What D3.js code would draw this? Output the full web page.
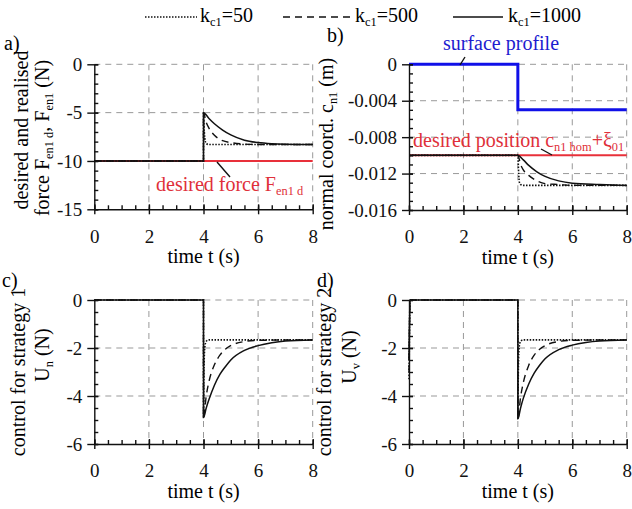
<!DOCTYPE html>
<html>
<head>
<meta charset="utf-8">
<script src="https://cdn.jsdelivr.net/npm/d3@7"></script>
<style>
  body { margin: 0; background: #fff; }
</style>
</head>
<body>
<script>
// time axis, shared by all four panels
var timeTicks = [0, 2, 4, 6, 8];
var legendGains = ["50", "500", "1000"];

// a) realised normal force F_en1 (N), one array per contact stiffness k_c1
var forceK50 = [[0,-10],[4,-10],[4,-5],[4.03,-7],[4.06,-7.9],[4.1,-8.2],[4.2,-8.3],[8,-8.3]];
var forceK500 = [[0,-10],[4,-10],[4,-5],[4.1,-6.0],[4.2,-6.6],[4.4,-7.35],[4.7,-7.9],[5,-8.1],[5.5,-8.25],[6,-8.29],[8,-8.3]];
var forceK1000 = [[0,-10],[4,-10],[4,-5],[4.2,-5.6],[4.4,-6.15],[4.7,-6.8],[5,-7.3],[5.5,-7.85],[6,-8.1],[6.5,-8.22],[7,-8.27],[8,-8.3]];
var desiredForce = [[0,-10],[8,-10]];
var forceTicks = [0, -5, -10, -15];

// b) normal coordinate c_n1 (m)
var coordK50 = [[0,-0.01],[4,-0.01],[4.03,-0.012],[4.06,-0.013],[4.1,-0.0132],[4.2,-0.0133],[8,-0.0133]];
var coordK500 = [[0,-0.01],[4,-0.01],[4.1,-0.011],[4.2,-0.0116],[4.4,-0.0122],[4.7,-0.0128],[5,-0.0131],[5.5,-0.0132],[6,-0.0133],[8,-0.0133]];
var coordK1000 = [[0,-0.01],[4,-0.01],[4.2,-0.0105],[4.4,-0.0111],[4.7,-0.0118],[5,-0.0123],[5.5,-0.0128],[6,-0.01305],[7,-0.0132],[8,-0.0133]];
var desiredPosition = [[0,-0.01],[8,-0.01]];
var surfaceProfile = [[0,0],[4,0],[4,-0.005],[8,-0.005]];
var coordTicks = [0, -0.004, -0.008, -0.012, -0.016];

// c) control for strategy 1, U_n (N)
var ctrl1K50 = [[0,0],[4,0],[4,-4.9],[4.02,-2.8],[4.05,-1.95],[4.1,-1.72],[4.2,-1.66],[8,-1.66]];
var ctrl1K500 = [[0,0],[4,0],[4,-4.9],[4.1,-4.0],[4.2,-3.4],[4.4,-2.7],[4.6,-2.3],[4.8,-2.05],[5,-1.9],[5.5,-1.73],[6,-1.68],[8,-1.66]];
var ctrl1K1000 = [[0,0],[4,0],[4,-4.9],[4.1,-4.5],[4.2,-4.15],[4.4,-3.55],[4.6,-3.1],[4.8,-2.78],[5,-2.5],[5.5,-2.1],[6,-1.9],[6.5,-1.78],[7,-1.71],[8,-1.67]];

// d) control for strategy 2, U_v (N)
var ctrl2K50 = [[0,-3.3],[0.04,0],[4,0],[4,-4.95],[4.02,-2.8],[4.05,-1.95],[4.1,-1.72],[4.2,-1.66],[8,-1.66]];
var ctrl2K500 = [[0,-3.0],[0.04,0],[4,0],[4,-4.95],[4.1,-4.05],[4.2,-3.45],[4.4,-2.72],[4.6,-2.3],[4.8,-2.05],[5,-1.9],[5.5,-1.73],[6,-1.68],[8,-1.66]];
var ctrl2K1000 = [[0,-2.5],[0.04,0],[4,0],[4,-4.95],[4.1,-4.5],[4.2,-4.1],[4.4,-3.5],[4.6,-3.05],[4.8,-2.72],[5,-2.45],[5.5,-2.07],[6,-1.88],[6.5,-1.77],[7,-1.71],[8,-1.67]];
var ctrlTicks = [0, -2, -4, -6];

var W = 632, H = 509;
var dotted = "1.5,1.5", dashed = "7,5";

/**
 * Pick the first installed serif font by comparing text widths on a canvas
 */
function pickFont(names) {
    var ctx = document.createElement("canvas").getContext("2d");
    var probe = "abcdefghijklmnopqrstuvwxyz ABCDEFGHIJ 0123456789";
    for (var i = 0; i < names.length; i++) {
        var differs = ["monospace", "sans-serif"].every(function(base) {
            ctx.font = "40px " + base;
            var w0 = ctx.measureText(probe).width;
            ctx.font = "40px '" + names[i] + "', " + base;
            return ctx.measureText(probe).width !== w0;
        });
        if (differs) return "'" + names[i] + "'";
    }
    return "serif";
}
var serifFont = pickFont(["Liberation Serif", "Times New Roman", "Tinos", "DejaVu Serif", "Noto Serif"]);

var svg = d3.select("body").append("svg")
    .attr("width", W)
    .attr("height", H)
    .attr("font-family", serifFont);

/**
 * Write a text made of normal and subscript parts into a text element
 */
function richText(el, parts) {
    parts.forEach(function(p, i) {
        var sub = p[1] === "sub";
        var afterSub = i > 0 && parts[i - 1][1] === "sub" && !sub;
        el.append("tspan")
            .attr("font-size", sub ? "0.62em" : null)
            .attr("dy", sub ? "0.3em" : (afterSub ? "-0.186em" : null))
            .text(p[0]);
    });
    return el;
}

var panels = [
    { box: [94.3, 312.7, 64.3, 209.3], yDomain: [-15, 0], yTicks: forceTicks, yMinor: 1,
      fmt: function(d) { return String(d); },
      refLines: [{ data: desiredForce, color: "#e8303a", width: 2 }],
      series: [forceK50, forceK500, forceK1000],
      letter: ["a)", 4, 50],
      ylabel: [
          { x: 28, y: 130, parts: [["desired and realised"]] },
          { x: 49, y: 138, parts: [["force F"], ["en1 d", "sub"], [", F"], ["en1", "sub"], [" (N)"]] }
      ] },
    { box: [409, 626.7, 64.3, 210], yDomain: [-0.016, 0], yTicks: coordTicks, yMinor: 0.001,
      fmt: function(d) { return d === 0 ? "0" : d.toFixed(3); },
      refLines: [{ data: desiredPosition, color: "#e8303a", width: 2 }],
      series: [coordK50, coordK500, coordK1000],
      topLines: [{ data: surfaceProfile, color: "#1010e8", width: 3 }],
      letter: ["b)", 327, 42],
      ylabel: [
          { x: 333, y: 144, parts: [["normal coord. c"], ["n1", "sub"], [" (m)"]] }
      ] },
    { box: [94.3, 312.7, 300, 444], yDomain: [-6, 0], yTicks: ctrlTicks, yMinor: 0.5,
      fmt: function(d) { return String(d); },
      refLines: [],
      series: [ctrl1K50, ctrl1K500, ctrl1K1000],
      letter: ["c)", 2, 287],
      ylabel: [
          { x: 25, y: 372, parts: [["control for strategy 1"]] },
          { x: 49, y: 355, parts: [["U"], ["n", "sub"], [" (N)"]] }
      ] },
    { box: [409, 626.7, 300, 444], yDomain: [-6, 0], yTicks: ctrlTicks, yMinor: 0.5,
      fmt: function(d) { return String(d); },
      refLines: [],
      series: [ctrl2K50, ctrl2K500, ctrl2K1000],
      letter: ["d)", 317, 287],
      ylabel: [
          { x: 331, y: 372, parts: [["control for strategy 2"]] },
          { x: 356, y: 357, parts: [["U"], ["v", "sub"], [" (N)"]] }
      ] }
];

var seriesStyle = [
    { dash: dotted, width: 1.6 },
    { dash: dashed, width: 1.4 },
    { dash: null, width: 1.5 }
];

panels.forEach(function(p) {
    var x = d3.scaleLinear().domain([0, 8]).range([p.box[0], p.box[1]]);
    var y = d3.scaleLinear().domain(p.yDomain).range([p.box[3], p.box[2]]);
    var g = svg.append("g");

    // dashed grid
    g.selectAll(".gx").data(timeTicks.slice(1)).enter().append("line")
        .attr("x1", function(d) { return x(d); }).attr("x2", function(d) { return x(d); })
        .attr("y1", y.range()[1]).attr("y2", y.range()[0])
        .attr("stroke", "#999").attr("stroke-dasharray", "6,5");
    g.selectAll(".gy").data(p.yTicks.filter(function(d) { return d !== p.yDomain[0]; })).enter().append("line")
        .attr("y1", function(d) { return y(d); }).attr("y2", function(d) { return y(d); })
        .attr("x1", x.range()[0]).attr("x2", x.range()[1])
        .attr("stroke", "#999").attr("stroke-dasharray", "6,5");

    var line = d3.line()
        .x(function(d) { return x(d[0]); })
        .y(function(d) { return y(d[1]); })
        .curve(d3.curveMonotoneX);
    var straight = d3.line()
        .x(function(d) { return x(d[0]); })
        .y(function(d) { return y(d[1]); });

    p.refLines.forEach(function(r) {
        g.append("path").datum(r.data)
            .attr("fill", "none").attr("stroke", r.color).attr("stroke-width", r.width)
            .attr("d", straight);
    });

    p.series.forEach(function(s, i) {
        g.append("path").datum(s)
            .attr("fill", "none").attr("stroke", "#111")
            .attr("stroke-width", seriesStyle[i].width)
            .attr("stroke-dasharray", seriesStyle[i].dash)
            .attr("d", line);
    });

    (p.topLines || []).forEach(function(r) {
        g.append("path").datum(r.data)
            .attr("fill", "none").attr("stroke", r.color).attr("stroke-width", r.width)
            .attr("d", straight);
    });

    // axes: major ticks cross the axis line, minor ticks point inside
    var xMinor = d3.range(0, 8.001, 0.5);
    var yMinor = d3.range(p.yDomain[0], p.yDomain[1] + p.yMinor / 2, p.yMinor);
    var bottom = y.range()[0], left = x.range()[0];

    g.append("g").attr("transform", "translate(0," + bottom + ")")
        .call(d3.axisBottom(x).tickValues(timeTicks).tickSizeInner(5).tickSizeOuter(0).tickPadding(15));
    g.append("g").attr("transform", "translate(0," + bottom + ")")
        .call(d3.axisBottom(x).tickValues(xMinor).tickSize(-4).tickFormat(""))
        .select(".domain").remove();
    g.append("g").attr("transform", "translate(0," + bottom + ")")
        .call(d3.axisBottom(x).tickValues(timeTicks).tickSize(-5).tickFormat(""))
        .select(".domain").remove();

    g.append("g").attr("transform", "translate(" + left + ",0)")
        .call(d3.axisLeft(y).tickValues(p.yTicks).tickSizeInner(7).tickSizeOuter(0).tickPadding(5).tickFormat(p.fmt));
    g.append("g").attr("transform", "translate(" + left + ",0)")
        .call(d3.axisLeft(y).tickValues(yMinor).tickSize(-4).tickFormat(""))
        .select(".domain").remove();
    g.append("g").attr("transform", "translate(" + left + ",0)")
        .call(d3.axisLeft(y).tickValues(p.yTicks).tickSize(-4).tickFormat(""))
        .select(".domain").remove();

    g.selectAll("g").attr("font-family", serifFont);
    g.selectAll(".domain, .tick line").attr("stroke", "#111").attr("stroke-width", 1.4);
    g.selectAll(".tick text").attr("font-size", 19).attr("fill", "#111");

    // x axis title
    g.append("text")
        .attr("x", (x.range()[0] + x.range()[1]) / 2)
        .attr("y", bottom + 54)
        .attr("text-anchor", "middle")
        .attr("font-size", 20)
        .text("time t (s)");

    // y axis title (one or two lines)
    p.ylabel.forEach(function(l) {
        var t = g.append("text")
            .attr("transform", "translate(" + l.x + "," + l.y + ") rotate(-90)")
            .attr("text-anchor", "middle")
            .attr("font-size", 20);
        richText(t, l.parts);
    });

    g.append("text")
        .attr("x", p.letter[1]).attr("y", p.letter[2])
        .attr("font-size", 20)
        .text(p.letter[0]);
});

// annotations
var redLabelA = svg.append("text").attr("x", 156).attr("y", 191)
    .attr("font-size", 20).attr("fill", "#e0303a");
richText(redLabelA, [["desired force F"], ["en1 d", "sub"]]);
svg.append("line").attr("x1", 217).attr("y1", 162).attr("x2", 230).attr("y2", 177)
    .attr("stroke", "#111").attr("stroke-width", 1.4);

var redLabelB = svg.append("text").attr("x", 413).attr("y", 147)
    .attr("font-size", 20).attr("fill", "#e0303a");
richText(redLabelB, [["desired position c"], ["n1 hom", "sub"], ["+ξ"], ["01", "sub"]]);
svg.append("line").attr("x1", 541).attr("y1", 149).attr("x2", 552).attr("y2", 155)
    .attr("stroke", "#111").attr("stroke-width", 1.4);

svg.append("text").attr("x", 443).attr("y", 50)
    .attr("font-size", 20).attr("fill", "#1c1ccf")
    .text("surface profile");
svg.append("line").attr("x1", 460).attr("y1", 65).attr("x2", 465).attr("y2", 57)
    .attr("stroke", "#111").attr("stroke-width", 1.4);

// legend
var legendPos = [[145, 197, 200], [283, 352, 355], [453, 503, 508]];
legendGains.forEach(function(k, i) {
    svg.append("line")
        .attr("x1", legendPos[i][0]).attr("x2", legendPos[i][1])
        .attr("y1", 17).attr("y2", 17)
        .attr("stroke", "#111")
        .attr("stroke-width", seriesStyle[i].width)
        .attr("stroke-dasharray", seriesStyle[i].dash);
    var t = svg.append("text").attr("x", legendPos[i][2]).attr("y", 22).attr("font-size", 20);
    richText(t, [["k"], ["c1", "sub"], ["=" + k]]);
});
</script>
</body>
</html>
